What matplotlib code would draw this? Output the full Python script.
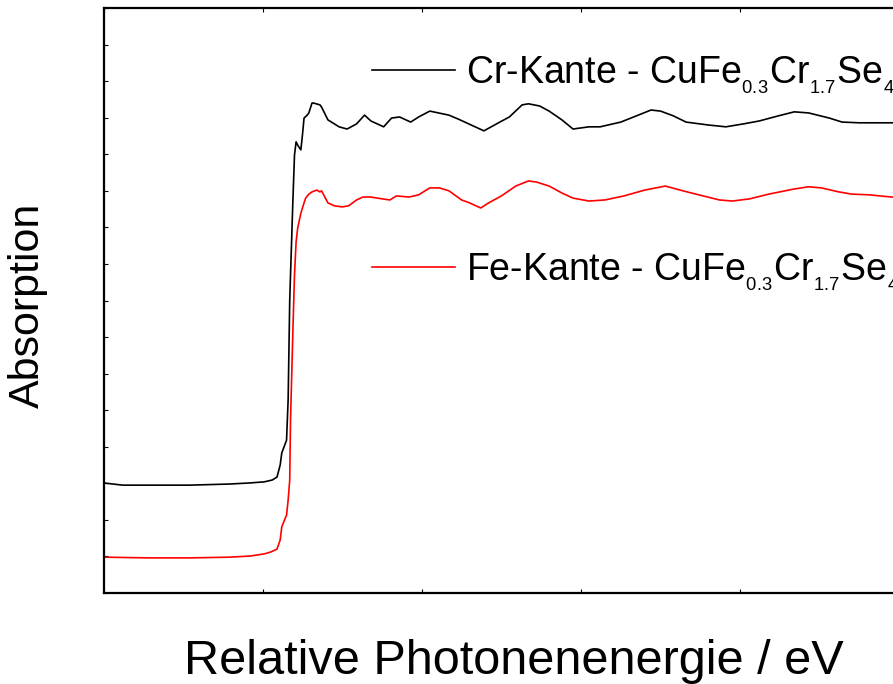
import matplotlib
matplotlib.use("Agg")
import matplotlib.pyplot as plt
import numpy as np

plt.rcParams['font.family'] = ['Liberation Sans', 'DejaVu Sans']
plt.rcParams['mathtext.fontset'] = 'custom'
plt.rcParams['mathtext.rm'] = 'Liberation Sans'
plt.rcParams['mathtext.default'] = 'regular'

# Data (relative energy in eV, absorption in arbitrary units)
cr_x = [-10.0, -8.8, -7.1, -4.6, -2.1, -0.8, 0.1, 0.6, 0.9, 1.1, 1.2, 1.5, 1.6, 1.7, 1.9,
        2.0, 2.1, 2.2, 2.4, 2.5, 2.6, 2.8, 2.9, 3.1, 3.2, 3.6, 3.7, 4.1, 4.8, 5.3,
        5.9, 6.4, 6.8, 7.6, 8.1, 8.6, 9.3, 9.8, 10.5, 11.7, 12.3, 12.8, 13.9, 14.9,
        15.5, 16.3, 16.7, 17.4, 18.0, 18.8, 19.5, 20.5, 21.2, 22.5, 23.6, 24.4, 25.0,
        25.8, 26.6, 28.0, 29.1, 30.2, 31.2, 32.4, 33.4, 34.3, 35.6, 36.4, 37.5, 39.5, 45.0]
cr_y = [0.301, 0.295, 0.295, 0.295, 0.298, 0.301, 0.304, 0.309, 0.317, 0.350, 0.383, 0.418,
        0.528, 0.801, 1.075, 1.198, 1.234, 1.225, 1.212, 1.253, 1.299, 1.307, 1.313, 1.340,
        1.340, 1.335, 1.329, 1.294, 1.275, 1.269, 1.283, 1.307, 1.291, 1.275, 1.299, 1.302,
        1.288, 1.302, 1.318, 1.307, 1.296, 1.286, 1.264, 1.288, 1.302, 1.335, 1.338, 1.332,
        1.318, 1.294, 1.269, 1.275, 1.275, 1.288, 1.307, 1.321, 1.318, 1.305, 1.288, 1.280,
        1.275, 1.283, 1.291, 1.305, 1.316, 1.313, 1.299, 1.288, 1.286, 1.286, 1.290]

fe_x = [-10.0, -7.1, -4.6, -2.1, -0.8, 0.1, 0.5, 0.9, 1.1, 1.2, 1.5, 1.6, 1.7, 1.75, 1.9,
        2.0, 2.1, 2.2, 2.4, 2.6, 2.7, 2.9, 3.1, 3.4, 3.6, 3.7, 4.1, 4.5, 5.0, 5.4, 5.9,
        6.3, 6.8, 7.5, 8.0, 8.4, 9.2, 9.8, 10.5, 11.1, 11.7, 12.5, 13.0, 13.7, 14.2, 15.0,
        15.9, 16.7, 17.2, 18.0, 18.8, 19.5, 20.5, 21.5, 22.7, 24.0, 25.3, 26.4, 27.4, 28.7,
        29.5, 30.6, 31.8, 33.4, 34.3, 35.1, 36.2, 37.0, 38.1, 39.5, 45.0]
fe_y = [0.098, 0.096, 0.096, 0.098, 0.101, 0.107, 0.112, 0.120, 0.145, 0.181, 0.213, 0.254,
        0.309, 0.473, 0.719, 0.870, 0.960, 0.998, 1.039, 1.067, 1.080, 1.091, 1.097, 1.102,
        1.097, 1.100, 1.067, 1.059, 1.056, 1.059, 1.075, 1.083, 1.083, 1.078, 1.075, 1.086,
        1.083, 1.089, 1.108, 1.108, 1.100, 1.075, 1.067, 1.053, 1.067, 1.086, 1.113, 1.127,
        1.124, 1.113, 1.094, 1.080, 1.072, 1.075, 1.086, 1.102, 1.113, 1.100, 1.089, 1.075,
        1.072, 1.078, 1.091, 1.105, 1.111, 1.108, 1.097, 1.091, 1.089, 1.083, 1.085]

# small, low subscripts like the original
cr_label = r'Cr-Kante - CuFe$_{_{0.3}}$Cr$_{_{1.7}}$Se$_{_4}$'
fe_label = r'Fe-Kante - CuFe$_{_{0.3}}$Cr$_{_{1.7}}$Se$_{_4}$'

fig = plt.figure(figsize=(8.93, 6.84), dpi=100)
# the original is cut off on the right, so the axes run past the figure edge
ax = fig.add_axes([103.5 / 893, 91 / 684, 955 / 893, 585 / 684])

l1, = ax.plot(cr_x, cr_y, color='black', lw=1.2)
l2, = ax.plot(fe_x, fe_y, color='red', lw=1.2)

ax.set_xlim(-10, 50)
ax.set_ylim(0, 1.6)
ax.set_xticks(np.arange(-10, 51, 10))
ax.set_yticks(np.arange(0, 1.61, 0.1))
ax.tick_params(direction='in', length=3, width=0.8, top=True, right=True,
               labelbottom=False, labelleft=False)
for s in ax.spines.values():
    s.set_linewidth(1.6)

leg1 = ax.legend([l1], [cr_label], loc='center left', bbox_to_anchor=(372 / 893, 1 - 75 / 684),
                 bbox_transform=fig.transFigure, frameon=False, fontsize=27,
                 handlelength=2.2, handletextpad=0.3, borderpad=0, borderaxespad=0)
ax.add_artist(leg1)
ax.legend([l2], [fe_label], loc='center left', bbox_to_anchor=(372 / 893, 1 - 272 / 684),
          bbox_transform=fig.transFigure, frameon=False, fontsize=27,
          handlelength=2.2, handletextpad=0.3, borderpad=0, borderaxespad=0)

fig.text(514 / 893, 10 / 684, 'Relative Photonenenergie / eV', ha='center', va='baseline',
         fontsize=35)
fig.text(28 / 893, 1 - 305 / 684, 'Absorption', ha='center', va='center', rotation=90,
         fontsize=31)

fig.savefig('out.png', dpi=100)
